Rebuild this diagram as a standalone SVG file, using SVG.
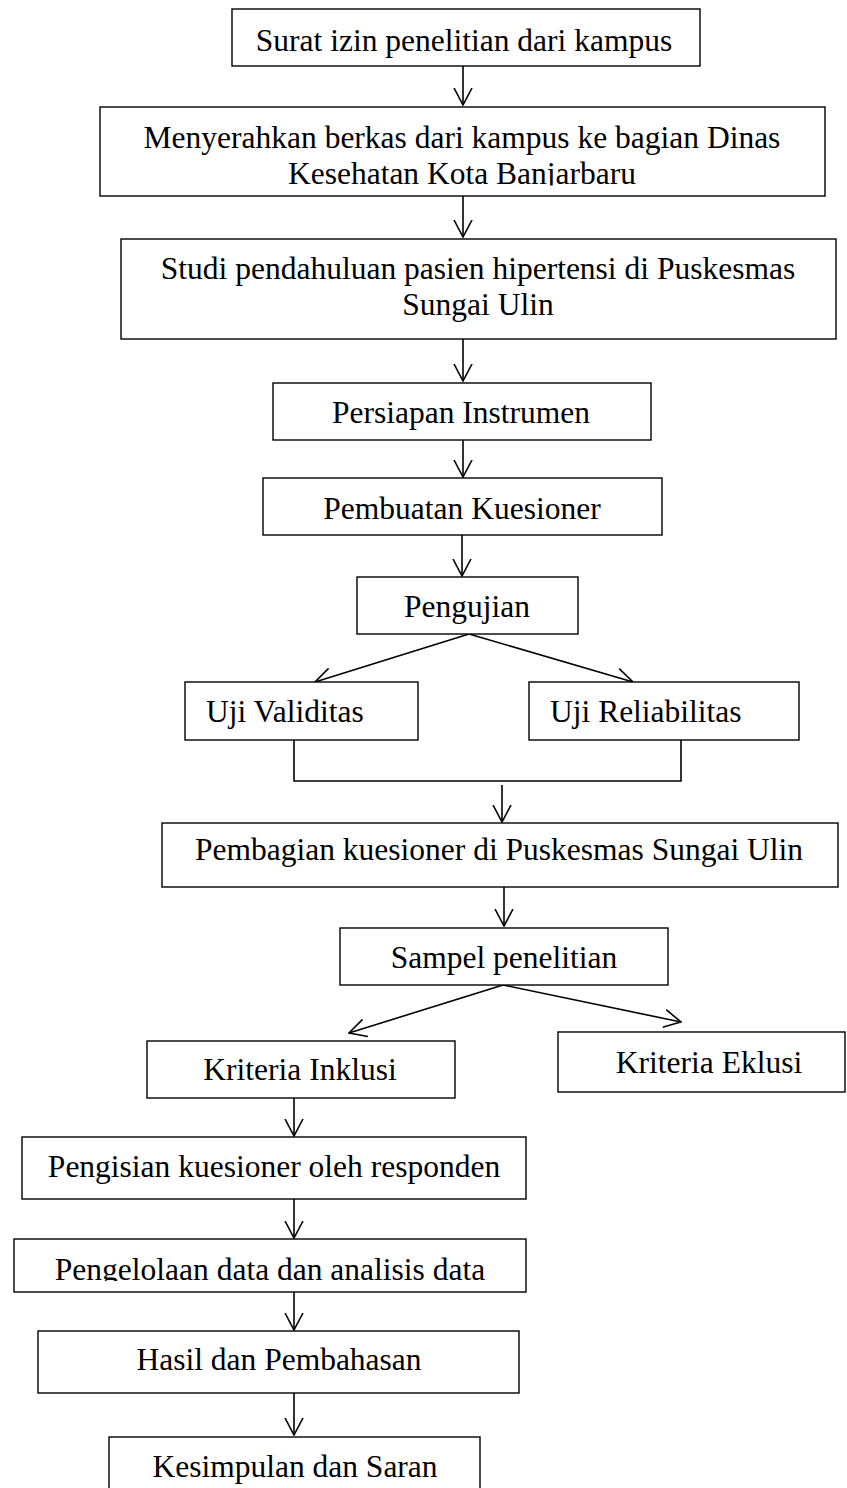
<svg xmlns="http://www.w3.org/2000/svg" width="847" height="1488" viewBox="0 0 847 1488">
<style>
.box{fill:#fff;stroke:#000;stroke-width:1.4}
.t{font-family:"Liberation Serif","Times New Roman",serif;font-size:31.5px;fill:#000}
.m{text-anchor:middle}
.c{fill:none;stroke:#000;stroke-width:1.6}
.a{marker-end:url(#arr)}
</style>
<defs>
<marker id="arr" markerUnits="userSpaceOnUse" viewBox="0 0 18 20" refX="17" refY="10" markerWidth="18" markerHeight="20" orient="auto">
<path d="M0,1 L17,10 L0,19" fill="none" stroke="#000" stroke-width="1.6"/>
</marker>
<clipPath id="clip2"><rect x="100" y="107" width="725" height="78.5"/></clipPath>
<clipPath id="clip12"><rect x="14" y="1239" width="512" height="42"/></clipPath>
</defs>
<rect width="847" height="1488" fill="#fff"/>
<g id="connectors">
<line class="c a" x1="463" y1="66" x2="463" y2="105"/>
<line class="c a" x1="463" y1="196" x2="463" y2="237"/>
<line class="c a" x1="463" y1="339" x2="463" y2="381"/>
<line class="c a" x1="463" y1="440" x2="463" y2="477"/>
<line class="c a" x1="462" y1="535" x2="462" y2="576"/>
<line class="c a" x1="469" y1="634" x2="315" y2="682"/>
<line class="c a" x1="469" y1="634" x2="633" y2="682"/>
<polyline class="c" points="294,740 294,781 681,781 681,740"/>
<line class="c a" x1="502" y1="785" x2="502" y2="822"/>
<line class="c a" x1="504" y1="887" x2="504" y2="926"/>
<line class="c a" x1="503" y1="985" x2="349" y2="1033"/>
<line class="c a" x1="503" y1="985" x2="681" y2="1022"/>
<line class="c a" x1="294" y1="1098" x2="294" y2="1136"/>
<line class="c a" x1="294" y1="1199" x2="294" y2="1238"/>
<line class="c a" x1="294" y1="1292" x2="294" y2="1330"/>
<line class="c a" x1="294" y1="1393" x2="294" y2="1435"/>
</g>
<g id="n1"><rect class="box" x="232" y="9" width="468" height="57"/><text class="t m" x="464" y="50.5">Surat izin penelitian dari kampus</text></g>
<g id="n2"><rect class="box" x="100" y="107" width="725" height="89"/><g clip-path="url(#clip2)"><text class="t m" x="462" y="148">Menyerahkan berkas dari kampus ke bagian Dinas</text><text class="t m" x="462" y="184.3">Kesehatan Kota Banjarbaru</text></g></g>
<g id="n3"><rect class="box" x="121" y="239" width="715" height="100"/><text class="t m" x="478" y="279">Studi pendahuluan pasien hipertensi di Puskesmas</text><text class="t m" x="478" y="315">Sungai Ulin</text></g>
<g id="n4"><rect class="box" x="273" y="383" width="378" height="57"/><text class="t m" x="461" y="423">Persiapan Instrumen</text></g>
<g id="n5"><rect class="box" x="263" y="478" width="399" height="57"/><text class="t m" x="462" y="519">Pembuatan Kuesioner</text></g>
<g id="n6"><rect class="box" x="357" y="577" width="221" height="57"/><text class="t m" x="467" y="617">Pengujian</text></g>
<g id="n7"><rect class="box" x="185" y="682" width="233" height="58"/><text class="t" x="206" y="722">Uji Validitas</text></g>
<g id="n8"><rect class="box" x="529" y="682" width="270" height="58"/><text class="t" x="550" y="722">Uji Reliabilitas</text></g>
<g id="n9"><rect class="box" x="162" y="823" width="676" height="64"/><text class="t m" x="499" y="860">Pembagian kuesioner di Puskesmas Sungai Ulin</text></g>
<g id="n10"><rect class="box" x="340" y="928" width="328" height="57"/><text class="t m" x="504" y="968">Sampel penelitian</text></g>
<g id="n11"><rect class="box" x="147" y="1041" width="308" height="57"/><text class="t m" x="300" y="1080">Kriteria Inklusi</text></g>
<g id="n12"><rect class="box" x="558" y="1032" width="287" height="60"/><text class="t m" x="709" y="1073">Kriteria Eklusi</text></g>
<g id="n13"><rect class="box" x="22" y="1137" width="504" height="62"/><text class="t m" x="274" y="1177">Pengisian kuesioner oleh responden</text></g>
<g id="n14"><rect class="box" x="14" y="1239" width="512" height="53"/><g clip-path="url(#clip12)"><text class="t m" x="270" y="1280">Pengelolaan data dan analisis data</text></g></g>
<g id="n15"><rect class="box" x="38" y="1331" width="481" height="62"/><text class="t m" x="279" y="1370">Hasil dan Pembahasan</text></g>
<g id="n16"><rect class="box" x="109" y="1437" width="371" height="60"/><text class="t m" x="295" y="1477">Kesimpulan dan Saran</text></g>
</svg>
